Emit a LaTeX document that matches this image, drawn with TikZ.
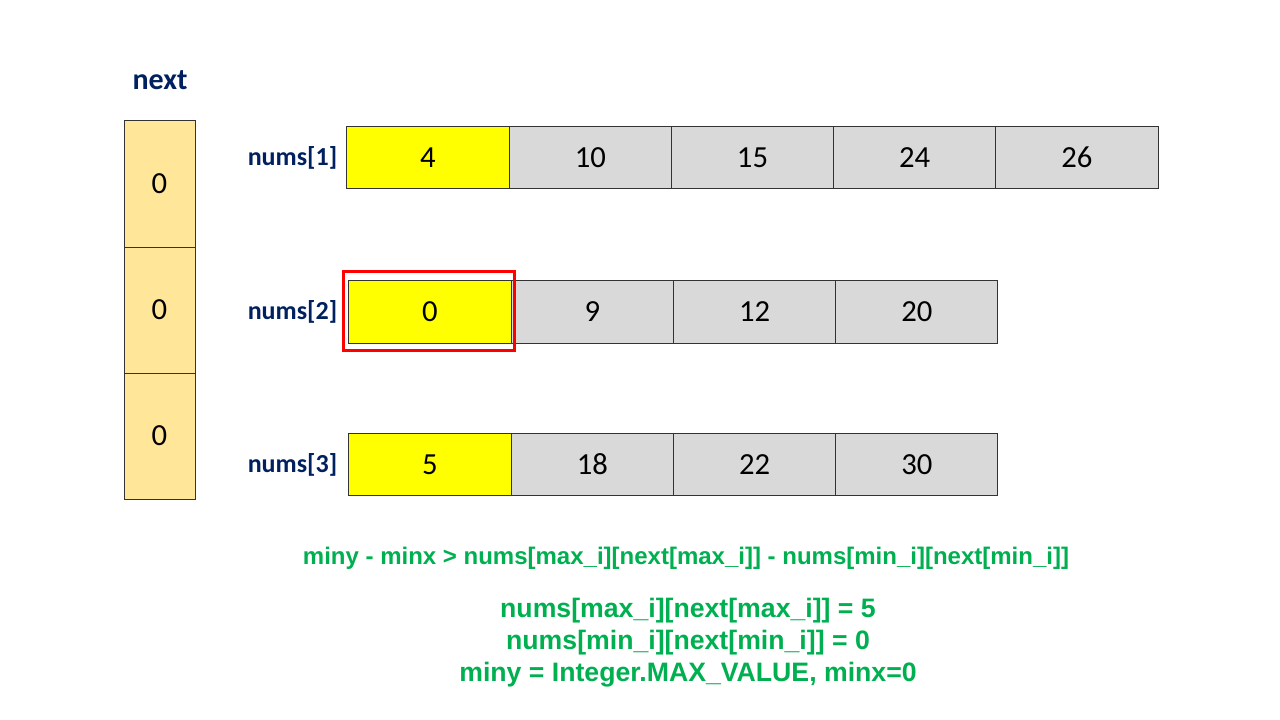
\documentclass[tikz,border=0pt]{standalone}
\usepackage{fontspec}
\setmainfont{Carlito}
\newfontfamily\eqfont{Liberation Sans}
\usepackage{xcolor}
\usetikzlibrary{positioning}
\definecolor{navy}{HTML}{002060}
\definecolor{nextfill}{HTML}{FFE699}
\definecolor{cellgray}{HTML}{D9D9D9}
\definecolor{hlyellow}{HTML}{FFFF00}
\definecolor{eqgreen}{HTML}{00B050}

\begin{document}
\begin{tikzpicture}[x=0.75pt, y=-0.75pt,
        cell/.style={rectangle, draw=black!80, line width=0.75pt, fill=cellgray, inner sep=0pt, outer sep=0pt,
            minimum width=121.7pt, minimum height=47pt, font=\fontsize{23}{28}\selectfont},
        first/.style={cell, fill=hlyellow},
        nextcell/.style={cell, fill=nextfill, minimum width=53.25pt, minimum height=94.5pt},
        rowlabel/.style={font=\fontsize{19.5}{24}\selectfont\bfseries, text=navy, inner sep=1pt},
        eq/.style={text=eqgreen, align=center, font=\eqfont\bfseries\fontsize{18}{24}\selectfont},
        pick/.style={rectangle, draw=red, line width=2.25pt, minimum width=128.25pt, minimum height=59.25pt}
    ]
        \useasboundingbox (0,0) rectangle (1280,720);

        % next array
        \node[font=\fontsize{22.5}{27}\selectfont\bfseries, text=navy] (nexttitle) at (160,80) {next};
        \foreach \k in {1,2,3}
            \node[nextcell] (n\k) at (159.5,{121+126*(\k-1)+63}) {0};

        % nums rows
        \node[first] (a1) at (428,157.5) {4};
        \foreach \v [count=\j from 2] in {10,15,24,26}
            \node[cell] (a\j) at ({347+162.2*(\j-1)+81.1},157.5) {\v};

        \node[first] (b1) at (430,312) {0};
        \foreach \v [count=\j from 2] in {9,12,20}
            \node[cell] (b\j) at ({349+162.25*(\j-1)+81.1},312) {\v};

        \node[first] (c1) at (430,464.5) {5};
        \foreach \v [count=\j from 2] in {18,22,30}
            \node[cell] (c\j) at ({349+162.25*(\j-1)+81.1},464.5) {\v};

        \node[rowlabel, left=6pt of a1] (l1) {nums[1]};
        \node[rowlabel, left=7.5pt of b1] (l2) {nums[2]};
        \node[rowlabel, left=7.5pt of c1] (l3) {nums[3]};

        \node[pick] (sel) at (429,311) {};

        % conditions
        \node[eq] (cond) at (686,558) {miny - minx > nums[max\_i][next[max\_i]] - nums[min\_i][next[min\_i]]};
        \node[eq, font=\eqfont\bfseries\fontsize{20}{24}\selectfont] (vals) at (688,643)
            {nums[max\_i][next[max\_i]] = 5\\nums[min\_i][next[min\_i]] = 0\\miny = Integer.MAX\_VALUE, minx=0};
\end{tikzpicture}
\end{document}
